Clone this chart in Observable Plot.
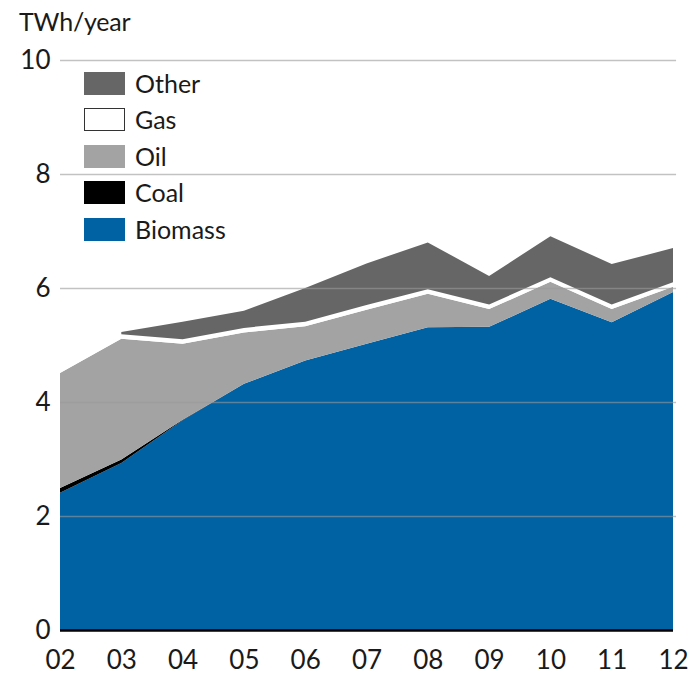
<!DOCTYPE html>
<html>
<head>
<meta charset="utf-8">
<script src="https://cdn.jsdelivr.net/npm/d3@7"></script>
<script src="https://cdn.jsdelivr.net/npm/@observablehq/plot@0.6"></script>
<style>
  html, body { margin: 0; padding: 0; background: #fff; }
  body { width: 695px; height: 677px; position: relative; overflow: hidden; font-family: Lato, "Open Sans", sans-serif; color: #1a1a1a; }
  #title { height: 40px; font-size: 25px; line-height: 42px; padding-left: 19px; letter-spacing: -0.2px; }
  #legend { position: absolute; left: 84px; top: 65px; }
  .row { display: flex; align-items: center; height: 36.5px; }
  .sw { width: 41px; height: 23px; box-sizing: border-box; margin-right: 10px; }
  .lb { font-size: 25px; line-height: 23px; }
  #chart svg { display: block; }
</style>
</head>
<body>
<div id="title">TWh/year</div>
<div id="chart"></div>
<div id="legend"></div>
<script>
// ---- data ----
const years = [2002, 2003, 2004, 2005, 2006, 2007, 2008, 2009, 2010, 2011, 2012];
const xTickLabels = ["02", "03", "04", "05", "06", "07", "08", "09", "10", "11", "12"];
const yTicks = [0, 2, 4, 6, 8, 10];
const biomass = [2.41, 2.93, 3.68, 4.32, 4.73, 5.02, 5.31, 5.32, 5.81, 5.40, 5.93];
const coal    = [0.08, 0.06, 0.01, 0.00, 0.00, 0.00, 0.00, 0.00, 0.00, 0.00, 0.00];
const oil     = [2.02, 2.12, 1.33, 0.90, 0.60, 0.60, 0.59, 0.31, 0.30, 0.23, 0.09];
const gas     = [0.05, 0.08, 0.08, 0.08, 0.08, 0.08, 0.08, 0.08, 0.08, 0.08, 0.08];
const other   = [null, 0.04, 0.31, 0.30, 0.59, 0.73, 0.82, 0.50, 0.72, 0.71, 0.60];
const seriesNames = ["Biomass", "Coal", "Oil", "Gas", "Other"];
const seriesColors = ["#0061a3", "#000000", "#a3a3a3", "#ffffff", "#666666"];
const legendOrder = ["Other", "Gas", "Oil", "Coal", "Biomass"];

const seriesValues = {Biomass: biomass, Coal: coal, Oil: oil, Gas: gas, Other: other};
const table = [];
for (const s of seriesNames) {
  years.forEach((yr, i) => {
    const v = seriesValues[s][i];
    if (v != null) table.push({series: s, year: yr, value: v});
  });
}

const chart = Plot.plot({
  width: 695,
  height: 637,
  marginLeft: 60,
  marginRight: 22,
  marginTop: 20,
  marginBottom: 47,
  style: {fontFamily: "Lato, 'Open Sans', sans-serif", fontSize: "26px", color: "#1a1a1a", background: "white"},
  x: {domain: [years[0], years[years.length - 1]]},
  y: {domain: [0, 10]},
  color: {domain: seriesNames, range: seriesColors},
  marks: [
    Plot.areaY(table, {x: "year", y: "value", fill: "series", order: seriesNames}),
    Plot.ruleY(yTicks.filter(d => d > 0), {x1: years[0], x2: years[years.length - 1] + 0.05, stroke: "#999999", strokeOpacity: 0.6, strokeWidth: 1.5}),
    Plot.ruleY([0], {x1: years[0], x2: years[years.length - 1], stroke: "#000", strokeWidth: 2.5}),
    Plot.axisX({ticks: years, tickFormat: d => xTickLabels[years.indexOf(d)], tickSize: 0, tickPadding: 20, label: null, fill: "#1a1a1a"}),
    Plot.axisY({ticks: yTicks, tickFormat: d => String(d), tickSize: 0, tickPadding: 10, label: null, fill: "#1a1a1a"})
  ]
});
document.getElementById("chart").appendChild(chart);

const legend = document.getElementById("legend");
for (const name of legendOrder) {
  const row = document.createElement("div");
  row.className = "row";
  const sw = document.createElement("div");
  sw.className = "sw";
  sw.style.background = seriesColors[seriesNames.indexOf(name)];
  if (name === "Gas") sw.style.border = "1.5px solid #333";
  const lb = document.createElement("div");
  lb.className = "lb";
  lb.textContent = name;
  row.appendChild(sw);
  row.appendChild(lb);
  legend.appendChild(row);
}
</script>
</body>
</html>
